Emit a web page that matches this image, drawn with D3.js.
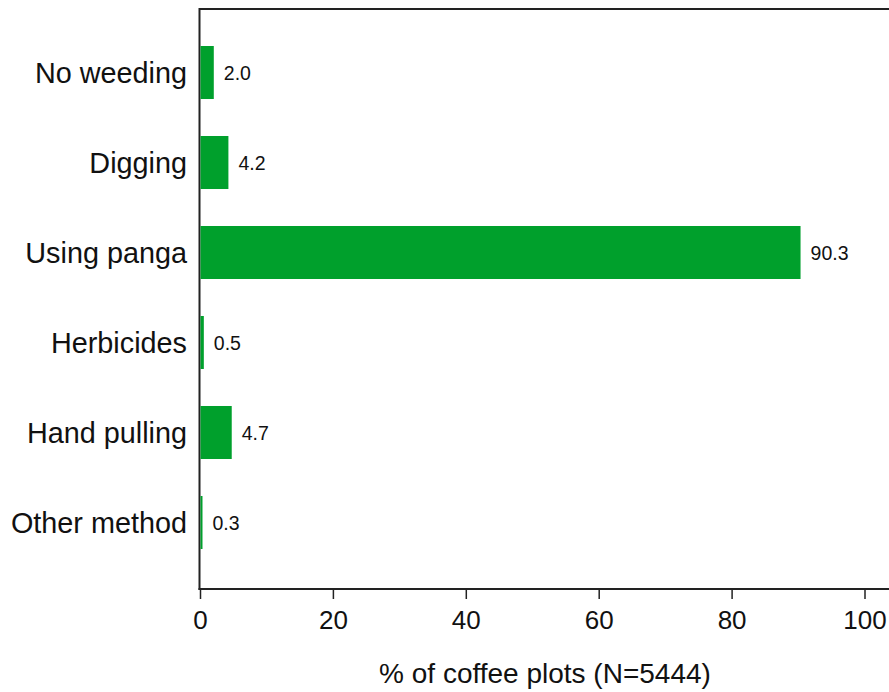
<!DOCTYPE html>
<html><head><meta charset="utf-8">
<script src="https://cdn.jsdelivr.net/npm/d3@7"></script>
<style>body{margin:0;background:#fff;} text{font-family:"Liberation Sans",Arial,sans-serif;}</style>
</head><body>
<svg id="chart" width="889" height="692"></svg>
<script>
const categories = ["No weeding","Digging","Using panga","Herbicides","Hand pulling","Other method"];
const values = [2.0, 4.2, 90.3, 0.5, 4.7, 0.3];
const labels = ["2.0","4.2","90.3","0.5","4.7","0.3"];
const xTicks = [0,20,40,60,80,100];
const xTitle = "% of coffee plots (N=5444)";

(function(){
const svg = d3.select("#chart");
const mLeft = 200, mTop = 9, mBottom = 589;
const x = d3.scaleLinear().domain([0,100]).range([mLeft, 864.5]);
const y = d3.scaleBand().domain(categories).range([19, 576]).paddingInner(0.411).paddingOuter(0.3);

// frame lines
svg.append("line").attr("x1",mLeft-1).attr("x2",889).attr("y1",mTop).attr("y2",mTop).attr("stroke","#222").attr("stroke-width",2);
svg.append("line").attr("x1",mLeft-0.5).attr("x2",mLeft-0.5).attr("y1",mTop-1).attr("y2",mBottom+1).attr("stroke","#222").attr("stroke-width",2);

svg.selectAll("rect.bar").data(values).enter().append("rect")
  .attr("class","bar")
  .attr("x", x(0)+0.5)
  .attr("y",(d,i)=>y(categories[i]))
  .attr("width",d=>Math.max(1.5, x(d)-x(0)))
  .attr("height",y.bandwidth())
  .attr("fill","#00a02c");

svg.selectAll("text.val").data(values).enter().append("text")
  .attr("class","val")
  .attr("x",d=>x(d)+10.5)
  .attr("y",(d,i)=>y(categories[i])+y.bandwidth()/2)
  .attr("dy","0.4em")
  .attr("font-size",19.5)
  .attr("fill","#111")
  .text((d,i)=>labels[i]);

const xAxis = d3.axisBottom(x).tickValues(xTicks).tickSize(10).tickSizeOuter(0).tickPadding(12);
const gx = svg.append("g").attr("transform",`translate(0,${mBottom})`).call(xAxis);
gx.select(".domain").remove();
gx.selectAll(".tick line").attr("stroke","#222").attr("stroke-width",1.5);
gx.selectAll(".tick text").attr("font-size",26).attr("fill","#111").attr("font-family","Liberation Sans, Arial, sans-serif");
svg.append("line").attr("x1",mLeft-1.5).attr("x2",889).attr("y1",mBottom).attr("y2",mBottom).attr("stroke","#222").attr("stroke-width",2);

const yAxis = d3.axisLeft(y).tickSize(0).tickPadding(13);
const gy = svg.append("g").attr("transform",`translate(${mLeft},0)`).call(yAxis);
gy.select(".domain").remove();
gy.selectAll(".tick text").attr("font-size",28.8).attr("dy","0.37em").attr("fill","#111").attr("font-family","Liberation Sans, Arial, sans-serif");

svg.append("text").attr("x",545).attr("y",683).attr("text-anchor","middle")
  .attr("font-size",28).attr("fill","#111").text(xTitle);
})();
</script>
</body></html>
